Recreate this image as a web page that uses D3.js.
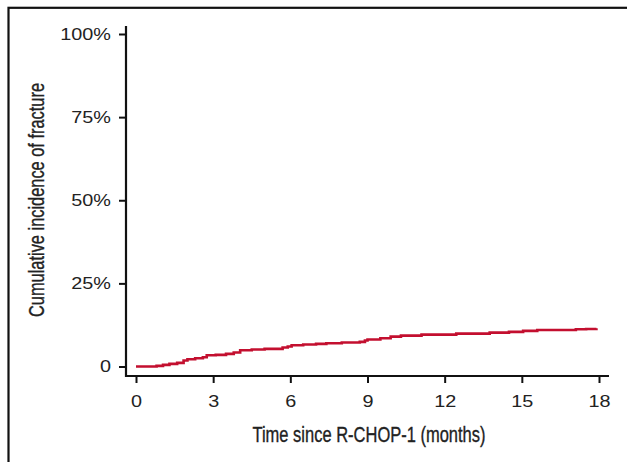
<!DOCTYPE html>
<html>
<head>
<meta charset="utf-8">
<script src="https://cdn.jsdelivr.net/npm/d3@7"></script>
<style>
	body { margin: 0; background: #fff; }
	#canvas { width: 627px; height: 462px; }
</style>
</head>
<body>
<div id="canvas"></div>
<script>
// cumulative incidence curve (months, %)
const months = [0, 0.8, 1.05, 1.3, 1.6, 1.85, 2.0, 2.3, 2.6, 2.75, 3.1, 3.5, 3.8, 4.05, 4.5, 5.0, 5.7, 5.9, 6.05, 6.5, 7.0, 7.4, 8.0, 8.7, 8.9, 9.0, 9.5, 9.9, 10.3, 11.1, 12.45, 13.75, 14.5, 15.05, 15.6, 17.1, 17.5, 17.9];
const incidence = [0, 0.2, 0.5, 0.8, 1.1, 1.8, 2.2, 2.5, 2.8, 3.4, 3.5, 3.8, 4.2, 4.9, 5.1, 5.3, 5.7, 6.0, 6.4, 6.6, 6.8, 7.0, 7.2, 7.4, 7.8, 8.1, 8.5, 9.0, 9.3, 9.6, 9.9, 10.2, 10.4, 10.7, 11.0, 11.2, 11.3, 11.5];

const xTicks = [0, 3, 6, 9, 12, 15, 18];
const yTicks = [0, 25, 50, 75, 100];
const yTickLabels = ['0', '25%', '50%', '75%', '100%'];

const xTitle = 'Time since R-CHOP-1 (months)';
const yTitle = 'Cumulative incidence of fracture';

const chart = {
	width: 627,
	height: 462,
	lineColor: '#c30f2f',
	labelFont: '"Liberation Sans", Arial, Helvetica, sans-serif',
	titleFont: '"Liberation Sans", Arial, Helvetica, sans-serif',
	stretch: 1.24,
};

drawChart();

function drawChart() {
	const { width, height } = chart;
	const svg = d3.select('#canvas').append('svg')
		.attr('width', width)
		.attr('height', height);

	// outer frame (runs off the right and bottom of the picture)
	svg.append('rect')
		.attr('x', 8.5).attr('y', 7.8)
		.attr('width', 800).attr('height', 800)
		.attr('fill', 'none')
		.attr('stroke', '#111')
		.attr('stroke-width', 2.2);

	const x = d3.scaleLinear().domain([0, 18]).range([136, 599]);
	const y = d3.scaleLinear().domain([0, 100]).range([366.5, 34]);
	const left = 126, bottom = 376;

	// y axis
	const yAxis = svg.append('g')
		.attr('transform', `translate(${left},0)`)
		.call(d3.axisLeft(y).tickValues(yTicks).tickSize(7).tickSizeOuter(0)
			.tickFormat((d, i) => yTickLabels[i]));
	yAxis.select('.domain').remove();
	yAxis.selectAll('.tick line').attr('stroke', '#111').attr('stroke-width', 2);
	yAxis.selectAll('.tick text')
		.attr('x', -15 / chart.stretch)
		.attr('transform', `scale(${chart.stretch},1)`)
		.attr('fill', '#222')
		.style('font-family', chart.labelFont)
		.style('font-size', '16px');

	// x axis
	const xAxis = svg.append('g')
		.attr('transform', `translate(0,${bottom})`)
		.call(d3.axisBottom(x).tickValues(xTicks).tickSize(7).tickSizeOuter(0));
	xAxis.select('.domain').remove();
	xAxis.selectAll('.tick line').attr('stroke', '#111').attr('stroke-width', 2);
	xAxis.selectAll('.tick text')
		.attr('y', 19.5)
		.attr('transform', `scale(${chart.stretch},1)`)
		.attr('fill', '#222')
		.style('font-family', chart.labelFont)
		.style('font-size', '16px');

	// L-shaped axis lines
	svg.append('path')
		.attr('d', `M${left},${y.range()[1] - 8}V${bottom}H${x.range()[1] + 10}`)
		.attr('fill', 'none')
		.attr('stroke', '#111')
		.attr('stroke-width', 2.2);

	// curve
	const line = d3.line()
		.x(d => x(d[0]))
		.y(d => y(d[1]))
		.curve(d3.curveStepAfter);
	svg.append('path')
		.datum(d3.zip(months, incidence))
		.attr('d', line)
		.attr('fill', 'none')
		.attr('stroke', chart.lineColor)
		.attr('stroke-width', 2.6);

	// titles: squeezed sans to mimic the condensed face
	svg.append('text')
		.attr('x', 369).attr('y', 441.5)
		.attr('text-anchor', 'middle')
		.attr('textLength', 233)
		.attr('lengthAdjust', 'spacingAndGlyphs')
		.attr('fill', '#222')
		.attr('stroke', '#222')
		.attr('stroke-width', 0.35)
		.style('font-family', chart.titleFont)
		.style('font-size', '21.5px')
		.text(xTitle);

	svg.append('text')
		.attr('transform', 'translate(44,200) rotate(-90)')
		.attr('text-anchor', 'middle')
		.attr('textLength', 234)
		.attr('lengthAdjust', 'spacingAndGlyphs')
		.attr('fill', '#222')
		.attr('stroke', '#222')
		.attr('stroke-width', 0.35)
		.style('font-family', chart.titleFont)
		.style('font-size', '21.5px')
		.text(yTitle);
}
</script>
</body>
</html>
